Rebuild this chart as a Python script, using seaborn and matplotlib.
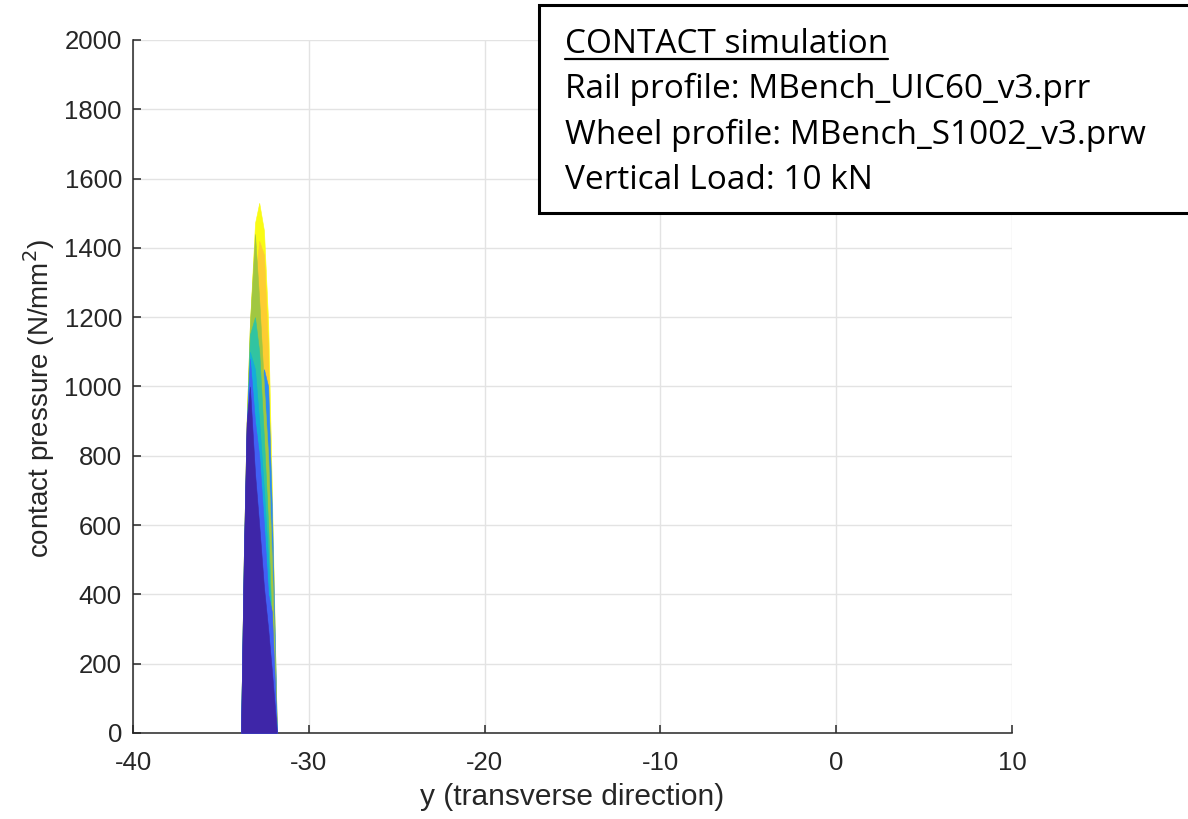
import matplotlib
matplotlib.use("Agg")
import matplotlib.pyplot as plt
from matplotlib.patches import Rectangle
from matplotlib.lines import Line2D
import seaborn as sns

# transverse grid points (mm) of the contact patch
y_nodes = [-33.86, -33.70, -33.54, -33.35, -33.06, -32.82, -32.55, -32.31, -32.10, -31.81]

# pressure profiles (N/mm^2) for successive slices, back to front
p_slice1 = [0, 508, 895, 1183, 1472, 1530, 1450, 1183, 700, 0]
p_slice2 = [0, 400, 700, 1000, 1300, 1420, 1380, 1100, 450, 0]
p_slice3 = [0, 400, 700, 900, 1000, 1000, 1050, 1000, 650, 0]
p_slice4 = [0, 508, 895, 1183, 1440, 1250, 1000, 800, 500, 0]
p_slice5 = [0, 490, 860, 1150, 1200, 1100, 850, 600, 300, 0]
p_slice6 = [0, 480, 850, 1100, 1050, 900, 700, 500, 250, 0]
p_slice7 = [0, 500, 880, 1080, 900, 800, 600, 400, 350, 0]
p_slice8 = [0, 508, 895, 1000, 750, 600, 420, 300, 180, 0]
slices = [p_slice1, p_slice2, p_slice3, p_slice4, p_slice5, p_slice6, p_slice7, p_slice8]
slice_levels = [1.0, 0.88, 0.3, 0.7, 0.55, 0.42, 0.18, 0.0]

x_ticks = [-40, -30, -20, -10, 0, 10]
y_ticks = list(range(0, 2001, 200))

info_title = "CONTACT simulation"
info_lines = ["Rail profile: MBench_UIC60_v3.prr",
              "Wheel profile: MBench_S1002_v3.prw",
              "Vertical Load: 10 kN"]

parula8 = ["#3E26A8", "#4852F4", "#2D87F7", "#12B1D6",
           "#37C897", "#ABC739", "#FEC338", "#F9FB15"]
cmap = sns.blend_palette(parula8, n_colors=256, as_cmap=True)

sns.set_theme(style="white")
plt.rcParams["font.family"] = ["Liberation Sans", "DejaVu Sans"]
plt.rcParams["axes.unicode_minus"] = False
ink = "#262626"

fig = plt.figure(figsize=(11.88, 8.19), dpi=100)
ax = fig.add_axes([133 / 1188, (819 - 733) / 819, 879 / 1188, 693 / 819])

for p, lev in zip(slices, slice_levels):
    c = cmap(lev)
    ax.fill_between(y_nodes, 0, p, facecolor=c, edgecolor=c, linewidth=0.4, zorder=3)

ax.set_xlim(-40, 10)
ax.set_ylim(0, 2000)
ax.set_xticks(x_ticks)
ax.set_yticks(y_ticks)
ax.grid(True, color="#e3e3e3", linewidth=1.0, zorder=0)
ax.set_axisbelow(True)
for s in ["top", "right"]:
    ax.spines[s].set_visible(False)
for s in ["left", "bottom"]:
    ax.spines[s].set_color(ink)
    ax.spines[s].set_linewidth(1.1)
ax.tick_params(direction="in", length=6, width=1.1, colors=ink, labelsize=18.5,
               left=True, bottom=True)
ax.tick_params(axis="x", pad=13)
ax.tick_params(axis="y", pad=8)

ax.set_xlabel("y (transverse direction)", fontsize=21.5, color=ink, labelpad=6)
ax.set_ylabel("contact pressure (N/mm$^2$)", fontsize=20, color=ink)
ax.yaxis.set_label_coords(-0.087, 0.483)

# info box, running off the right edge of the figure
fig.patches.append(Rectangle((539 / 1188, 1 - 213 / 819), 0.7, 208 / 819,
                             transform=fig.transFigure, facecolor="white",
                             edgecolor="black", linewidth=2.2, zorder=5))
box_font = dict(family=["Open Sans", "DejaVu Sans"], fontsize=24, color="black", zorder=6)
baselines = [53, 98, 144, 189]
t = fig.text(565 / 1188, 1 - baselines[0] / 819, info_title, va="baseline", **box_font)
for txt, b in zip(info_lines, baselines[1:]):
    fig.text(565 / 1188, 1 - b / 819, txt, va="baseline", **box_font)

renderer = fig.canvas.get_renderer()
bb = t.get_window_extent(renderer)
uy = 1 - 59 / 819
fig.lines.append(Line2D([bb.x0 / 1188, bb.x1 / 1188], [uy, uy], transform=fig.transFigure,
                        color="black", linewidth=1.6, zorder=6))

fig.savefig("out.png", dpi=100)
